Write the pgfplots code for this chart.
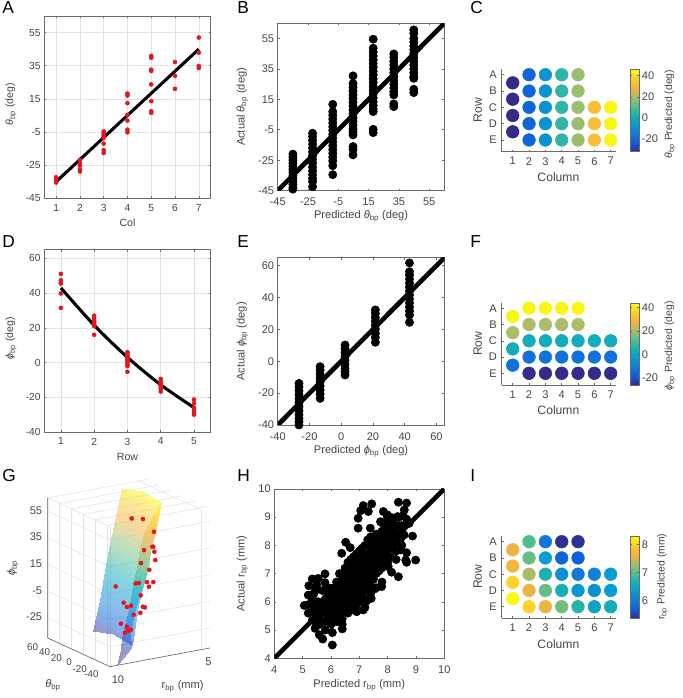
\documentclass[border=0pt]{standalone}
\usepackage{fontspec}
\setmainfont{Liberation Sans}
\usepackage{pgfplots}
\pgfplotsset{compat=1.18}
\usepgfplotslibrary{patchplots}
\definecolor{axc}{gray}{0.42}
\definecolor{txt}{gray}{0.27}
\definecolor{rd}{RGB}{230,20,30}
\newcommand{\thb}{\textit{θ}\textsubscript{bp}}
\newcommand{\phb}{\textit{ϕ}\textsubscript{bp}}
\newcommand{\rb}{r\textsubscript{bp}}
\pgfplotsset{
  colormap={parula}{rgb255=(53,42,135) rgb255=(15,92,221) rgb255=(18,125,216) rgb255=(7,156,207) rgb255=(21,177,180) rgb255=(89,189,140) rgb255=(165,190,107) rgb255=(247,178,62) rgb255=(252,206,46) rgb255=(249,251,14)},
  /pgf/number format/assume math mode=true,
  base/.style={scale only axis, anchor=south west, axis line style={draw=axc,line width=0.5pt},
    tick style={draw=axc,line width=0.4pt}, tick align=inside, major tick length=1.5pt,
    xtick pos=both, ytick pos=both,
    label style={text=txt}, tick label style={text=txt},
    xticklabel style={inner sep=0pt,yshift=-4.2pt}, yticklabel style={inner sep=0pt,xshift=-2.5pt}},
  pa/.style={base, width=124.8pt, height=136.7pt, grid=major, grid style={draw=gray!22,line width=0.4pt},
    tick label style={font=\fontsize{7.7}{9}\selectfont}, label style={font=\fontsize{7.9}{9}\selectfont},
    xlabel style={at={(axis description cs:0.5,-0.137)},anchor=center},
    ylabel style={at={(axis description cs:-0.2,0.515)},anchor=center,rotate=0}},
  pb/.style={base, tick label style={font=\fontsize{8.3}{10}\selectfont}, label style={font=\fontsize{8.3}{10}\selectfont},
    xticklabel style={yshift=-1.3pt},
    xlabel style={at={(axis description cs:0.5,-0.155)},anchor=center},
    ylabel style={at={(axis description cs:-0.2125,0.5)},anchor=center}},
  pc/.style={scale only axis, anchor=south west, width=85.5pt, xmin=0.326, xmax=7.31,
    axis x line*=bottom, axis y line*=left, axis line style={draw=axc,line width=0.6pt,-},
    tick style={draw=axc,line width=0.4pt}, tick align=inside, major tick length=1.5pt,
    xtick={1,...,7}, ytick={1,...,5}, yticklabels={E,D,C,B,A},
    colormap name=parula, colorbar,
    label style={text=txt,font=\fontsize{9.1}{11}\selectfont},
    tick label style={text=txt,font=\fontsize{8.3}{10}\selectfont},
    xticklabel style={inner sep=0pt,yshift=-4pt}, yticklabel style={inner sep=0pt,xshift=-3.5pt},
    xlabel style={at={(axis description cs:0.497,-0.31)},anchor=center},
    ylabel style={at={(axis description cs:-0.21,0.506)},anchor=center}},
  cb/.style={scale only axis, width=6.75pt, at={(parent axis.north east)}, anchor=north west, xshift=2.2pt,
    axis line style={draw=axc,line width=0.4pt}, tick style={draw=axc,line width=0.3pt}, tick align=inside, major tick length=1.5pt,
    yticklabel pos=right, tick label style={text=txt,font=\fontsize{8.3}{10}\selectfont,inner sep=0pt,xshift=2pt},
    label style={text=txt,font=\fontsize{7.8}{10}\selectfont}},
  dots/.style={only marks, mark=*, mark size=1.5pt, color=rd, mark options={draw=rd,fill=rd}},
  big/.style={only marks, mark=*, mark size=3.1pt, color=black, mark options={draw=black,fill=black}},
  fit/.style={black, line width=2.3pt, no marks},
  diag/.style={black, line width=3.5pt, no marks},
  circ/.style={scatter, only marks, mark=*, mark size=4.75pt, point meta=explicit,
    scatter/use mapped color={draw=mapped color, fill=mapped color}},
}
\pgfplotstableread{
x y
-35 -21
-35 -23
-35 -25
-35 -27
-35 -29
-35 -31
-35 -33
-35 -35
-35 -37
-35 -39
-35 -41
-35 -43
-35 -44
-22 -7.3
-22 -9.5
-22 -12
-22 -14.5
-22 -17
-22 -19.5
-22 -22
-22 -24.5
-22 -27
-22 -29.5
-22 -32
-22 -34.5
-22 -37
-22 -39
-22 -42.4
-8.7 11.7
-8.7 6.9
-8.7 4.5
-8.7 2
-8.7 -0.5
-8.7 -3
-8.7 -5.5
-8.7 -8
-8.7 -10.5
-8.7 -13
-8.7 -15.5
-8.7 -18
-8.7 -20.5
-8.7 -23
-8.7 -25.5
-8.7 -28.6
-8.7 -34.5
4.7 30.4
4.7 25.4
4.7 23
4.7 20.5
4.7 18
4.7 15.5
4.7 13
4.7 10.5
4.7 8
4.7 5.5
4.7 3
4.7 0.5
4.7 -2
4.7 -4.5
4.7 -6.5
4.7 -8.4
4.7 -16
4.7 -18
4.7 -21.5
18 54.5
18 48.6
18 46
18 43.5
18 41
18 38.5
18 36
18 33.5
18 31
18 28.5
18 26
18 23.5
18 21
18 18.5
18 16
18 13.5
18 11
18 8.5
18 6.9
18 -4.7
18 -6.9
31.6 44.8
31.6 42.5
31.6 40
31.6 37.5
31.6 35
31.6 32.5
31.6 30
31.6 27.5
31.6 25
31.6 22.5
31.6 20
31.6 17.9
31.6 12
31.6 10.2
44.8 60.6
44.8 58.4
44.8 55
44.8 52.5
44.8 50
44.8 47.5
44.8 45
44.8 42.5
44.8 40
44.8 37.5
44.8 35
44.8 32.5
44.8 30
44.8 28.8
44.8 21.6
44.8 19.4
}\tabB
\pgfplotstableread{
x y
-26.6 -13.9
-26.6 -16
-26.6 -18.5
-26.6 -21
-26.6 -23.5
-26.6 -26
-26.6 -28.5
-26.6 -31
-26.6 -33.5
-26.6 -36
-26.6 -38
-26.6 -40
-13.3 -3.4
-13.3 -5.5
-13.3 -8
-13.3 -10.5
-13.3 -13
-13.3 -15.5
-13.3 -18
-13.3 -20.5
-13.3 -23.3
2.4 10.2
2.4 8
2.4 5.5
2.4 3
2.4 0.5
2.4 -2
2.4 -4.5
2.4 -6.5
2.4 -8.6
21.5 32.2
21.5 30
21.5 27.5
21.5 25
21.5 22.5
21.5 20
21.5 17.5
21.5 15
21.5 11.9
43 61.7
43 56.2
43 54
43 51.5
43 49
43 46.5
43 44
43 41.5
43 39
43 36.5
43 34
43 31.5
43 29
43 24.4
}\tabE
\pgfplotstableread{
x y
8.38 9.53
8.67 9.5
7.44 9.47
7.14 9.41
7.05 9.23
7.32 9.2
6.96 8.96
8.59 9.26
8.55 9.06
8.35 9.02
7.85 9.2
7.99 9.08
7.75 8.84
8.67 8.93
8.76 8.78
6.96 8.61
7.39 8.61
8.88 8.33
8.58 8.37
8.46 8.23
8.46 7.84
8.67 7.74
8.64 7.48
8.67 7.4
8.99 7.48
8.38 6.89
8.14 7.05
8.02 7.25
6.52 8.11
6.68 7.92
6.38 7.72
5.79 6.99
5.34 6.81
5.55 6.83
5.79 6.68
5.22 6.57
5.46 6.42
5.2 6.24
5.06 5.87
5.2 5.6
5.34 6.07
5.44 5.06
5.59 4.83
5.71 4.68
6.05 4.47
6.05 4.91
6.4 5.04
6.4 5.2
7.14 5.71
6.91 5.65
5.55 6
7.79 6.54
7.55 6.46
7.42 6.12
7.26 6.03
5.6 5.2
5.6 5.4
5.6 5.6
5.6 5.8
5.8 5
5.8 5.3
5.8 5.6
5.8 5.9
5.8 6.1
6 5.2
6 5.4
6 5.6
6 5.8
6 6
6 6.2
6 6.4
6.2 5.3
6.2 5.5
6.2 5.7
6.2 5.9
6.2 6.1
6.2 6.3
6.2 6.5
6.2 6.7
6.4 5.4
6.4 5.6
6.4 5.8
6.4 6
6.4 6.2
6.4 6.4
6.4 6.6
6.4 6.8
6.4 7
6.6 5.6
6.6 5.8
6.6 6
6.6 6.2
6.6 6.4
6.6 6.6
6.6 6.8
6.6 7
6.6 7.2
6.6 7.4
6.8 5.8
6.8 6
6.8 6.2
6.8 6.4
6.8 6.6
6.8 6.8
6.8 7
6.8 7.2
6.8 7.4
6.8 7.6
7 6
7 6.4
7 6.6
7 6.8
7 7
7 7.2
7 7.4
7 7.6
7 7.8
7.2 5.8
7.2 6.1
7.2 6.4
7.2 6.7
7.2 6.9
7.2 7.1
7.2 7.3
7.2 7.5
7.2 7.7
7.2 8
7.4 6.3
7.4 6.7
7.4 6.9
7.4 7.1
7.4 7.3
7.4 7.5
7.4 7.7
7.4 7.9
7.4 8.1
7.4 8.3
7.6 6.5
7.6 7
7.6 7.2
7.6 7.4
7.6 7.6
7.6 7.8
7.6 8
7.6 8.2
7.6 8.4
7.8 6.7
7.8 7.2
7.8 7.5
7.8 7.7
7.8 7.9
7.8 8.1
7.8 8.3
7.8 8.5
7.8 8.8
8 7.4
8 7.8
8 8
8 8.2
8 8.4
8 8.6
8 8.8
8 9
8.2 8
8.2 8.2
8.2 8.4
8.2 8.6
8.2 8.8
8.4 8.2
8.4 8.4
8.4 8.7
8.4 9
5.5 5.3
5.5 5.5
5.5 5.7
5.5 6
5.9 5.4
5.9 5.7
5.9 6
5.9 6.3
6.1 5.3
6.1 5.6
6.1 5.9
6.1 6.2
6.1 6.5
6.3 5.5
6.3 5.8
6.3 6.1
6.3 6.4
6.3 6.7
6.3 7
6.5 5.7
6.5 6
6.5 6.3
6.5 6.6
6.5 6.9
6.5 7.2
6.7 5.7
6.7 6
6.7 6.3
6.7 6.6
6.7 6.9
6.7 7.2
6.7 7.5
6.9 5.9
6.9 6.2
6.9 6.5
6.9 6.8
6.9 7.1
6.9 7.4
6.9 7.7
7.1 6.2
7.1 6.5
7.1 6.8
7.1 7.1
7.1 7.4
7.1 7.7
7.1 7.9
7.3 6.5
7.3 6.8
7.3 7.1
7.3 7.4
7.3 7.7
7.3 8
7.3 8.2
7.5 6.8
7.5 7.1
7.5 7.4
7.5 7.7
7.5 8
7.5 8.3
7.7 7.1
7.7 7.4
7.7 7.7
7.7 8
7.7 8.3
7.9 7.3
7.9 7.6
7.9 7.9
7.9 8.2
7.9 8.5
7.9 8.8
8.1 7.6
8.1 7.9
8.1 8.2
8.1 8.5
8.1 8.8
8.1 9
8.3 7.5
8.3 7.8
8.3 8.1
8.3 8.4
8.3 8.7
8.5 8
8.5 8.4
8.5 8.7
5.4 5.8
5.3 5.6
5.5 6.6
5.4 6.3
5.2 5.9
5.35 5.35
5.5 5.2
5.7 6.4
5.9 6.5
}\tabH
\pgfplotstableread{
c r v
1 4.5 -33
1 3.5 -33
1 2.5 -33
1 1.5 -33
2 5 -21
2 4 -21
2 3 -21
2 2 -21
2 1 -21
3 5 -8
3 4 -8
3 3 -8
3 2 -8
3 1 -8
4 5 6
4 4 6
4 3 6
4 2 6
4 1 6
5 5 19
5 4 19
5 3 19
5 2 19
5 1 19
6 3 32
6 2 32
6 1 32
7 3 45
7 2 45
7 1 45
}\tabC
\pgfplotstableread{
c r v
1 4.5 43
1 3.5 21
1 2.5 3
1 1.5 -13
2 5 43
2 4 21
2 3 3
2 2 -13
2 1 -26
3 5 43
3 4 21
3 3 3
3 2 -13
3 1 -26
4 5 43
4 4 21
4 3 3
4 2 -13
4 1 -26
5 5 43
5 4 21
5 3 3
5 2 -13
5 1 -26
6 3 3
6 2 -13
6 1 -26
7 3 3
7 2 -13
7 1 -26
}\tabF
\pgfplotstableread{
c r v
1 4.5 7.6
1 3.5 7.7
1 2.5 8.0
1 1.5 8.3
2 5 6.95
2 4 7.05
2 3 7.35
2 2 7.6
2 1 8.0
3 5 5.95
3 4 6.35
3 3 6.7
3 2 7.05
3 1 7.6
4 5 5.4
4 4 5.75
4 3 6.2
4 2 6.65
4 1 7.1
5 5 5.4
5 4 5.7
5 3 5.95
5 2 6.3
5 1 6.75
6 3 6.05
6 2 6.2
6 1 6.45
7 3 6.35
7 2 6.35
7 1 6.6
}\tabI
\begin{document}
\begin{tikzpicture}
\path[use as bounding box] (0pt,0pt) rectangle (511.5pt,523.5pt);
% A
\begin{axis}[pa, at={(33.2pt,374.8pt)}, xmin=0.5, xmax=7.5, ymin=-45, ymax=65, xtick={1,...,7}, ytick={-45,-25,-5,15,35,55}, xlabel={Col}, ylabel={\thb{} (deg)}]
\addplot[fit] coordinates {(1,-35)(7,45)};
\addplot[dots] coordinates {(1,-32.3)(1,-33)(1,-34)(1,-35.5)(2,-21.8)(2,-23.8)(2,-25.4)(2,-27.8)(2,-28.8)(3,-4.6)(3,-6)(3,-7)(3,-8)(3,-8.5)(3,-12)(3,-16)(3,-17.7)(4,18.2)(4,17)(4,12.4)(4,5.3)(4,1.9)(4,-3.6)(4,-5.2)(5,40.9)(5,39.8)(5,32.6)(5,31.8)(5,23.7)(5,13.6)(5,7.5)(5,6.5)(6,37.2)(6,28.9)(6,21)(7,52)(7,42.9)(7,34.8)(7,33.6)};
\end{axis}
% B
\begin{axis}[pb, at={(208.3pt,380.5pt)}, width=125pt, height=125.6pt, xmin=-45, xmax=65, ymin=-45, ymax=65, xtick={-45,-25,-5,15,35,55}, ytick={-45,-25,-5,15,35,55}, xlabel={Predicted \thb{} (deg)}, ylabel={Actual \thb{} (deg)}]
\addplot[big] table {\tabB};
\addplot[diag] coordinates {(-45,-45)(65,65)};
\end{axis}
% C
\begin{axis}[pc, at={(376.3pt,409.7pt)}, height=61.8pt, ymin=0.28, ymax=5.33, point meta min=-32, point meta max=46, xlabel={Column}, ylabel={Row},
  colorbar style={cb, height=61.8pt, ytick={-20,0,20,40}, ylabel={\thb{} Predicted (deg)}, ylabel style={at={(axis description cs:4.44,0.457)},anchor=center,rotate=0}}]
\addplot[circ] table[x=c,y=r,meta=v] {\tabC};
\end{axis}
% D
\begin{axis}[pa, at={(33.2pt,199.5pt)}, xmin=0.5, xmax=5.5, ymin=-40, ymax=65, xtick={1,...,5}, ytick={-40,-20,0,20,40,60}, xlabel={Row}, ylabel={\phb{} (deg)}]
\addplot[fit, smooth] coordinates {(1,43)(2,21.5)(3,3)(4,-12.8)(5,-26)};
\addplot[dots] coordinates {(1,51.1)(1,47.4)(1,46.3)(1,45.5)(1,39.8)(1,31.5)(2,27)(2,25.5)(2,24)(2,23)(2,22)(2,21)(2,16)(3,6)(3,5)(3,4)(3,3)(3,2)(3,1)(3,0)(3,-1)(3,-2)(3,-5.3)(4,-9.4)(4,-11)(4,-12)(4,-13)(4,-14)(4,-15)(4,-16.7)(5,-21.3)(5,-23.4)(5,-26)(5,-27.3)(5,-28.8)(5,-30)};
\end{axis}
% E
\begin{axis}[pb, at={(208.3pt,204.75pt)}, width=125pt, height=125.5pt, xmin=-40, xmax=65, ymin=-40, ymax=65, xtick={-40,-20,0,20,40,60}, ytick={-40,-20,0,20,40,60}, xlabel={Predicted \phb{} (deg)}, ylabel={Actual \phb{} (deg)}]
\addplot[big] table {\tabE};
\addplot[diag] coordinates {(-40,-40)(65,65)};
\end{axis}
% F
\begin{axis}[pc, at={(376.3pt,234.75pt)}, height=61.3pt, ymin=0.28, ymax=5.31, point meta min=-26.3, point meta max=43.8, xlabel={Column}, ylabel={Row},
  colorbar style={cb, height=61.3pt, ytick={-20,0,20,40}, ylabel={\phb{} Predicted (deg)}, ylabel style={at={(axis description cs:4.44,0.48)},anchor=center,rotate=0}}]
\addplot[circ] table[x=c,y=r,meta=v] {\tabF};
\end{axis}
% G
\begin{axis}[at={(35.8pt,23.5pt)}, anchor=south west, x={(-13.635pt,-2.55pt)}, y={(-0.4448pt,0.2048pt)}, z={(0pt,1pt)},
  xmin=4.5, xmax=10, ymin=-45, ymax=60, zmin=-40, zmax=65, xtick={5,10}, ytick={-40,-20,0,20,40,60}, ztick={-25,-5,15,35,55},
  grid=major, grid style={draw=gray!22,line width=0.4pt}, clip=false, axis line style={draw=none},
  tick style={draw=none}, major tick length=0pt, colormap name=parula,
  tick label style={text=txt,font=\fontsize{8.3}{10}\selectfont,inner sep=1pt},
  xticklabel style={xshift=3pt,yshift=-5pt}, yticklabel style={xshift=-7.5pt,yshift=-2pt,font=\fontsize{7.4}{9}\selectfont}, zticklabel style={xshift=-3pt},
  point meta min=-41, point meta max=66]
\addplot3[dots] coordinates {(6.83,0,20.4)(6.66,0,29.7)(7.12,0,5.9)(6.94,0,5.7)(7.78,0,-6.9)(7.38,0,-10.2)(7.23,0,-17.3)(7.60,0,-25.4)(7.38,0,-28.2)(7.71,0,-29.6)(7.52,0,-28.5)(6.11,0,42)};
\addplot3[surf, shader=interp, opacity=0.5, mesh/cols=3, point meta=z] coordinates {
(5.93,60,62.0)(5.96,25,67.0)(6.05,-10,66.3)
(6.24,60,41.8)(6.29,25,46.1)(6.33,-10,47.3)
(6.55,60,21.6)(6.56,25,25.9)(6.66,-10,29.5)
(6.85,60,2.9)(6.84,25,7.1)(6.99,-10,9.3)
(7.15,60,-18.8)(7.28,25,-14.3)(7.34,-10,-7.7)
(7.49,60,-40.9)(7.55,25,-36.0)(7.66,-10,-36.9)};
\addplot3[surf, shader=interp, opacity=0.5, mesh/cols=2, point meta=explicit] coordinates {
(5.89,0,59.2)[59.2] (6.38,-20,69.3)[66]
(6.55,0,45.9)[45.9] (6.62,-20,53.9)[53.9]
(6.88,0,32.5)[32.5] (6.96,-20,34.6)[34.6]
(7.07,0,18)[18] (7.11,-20,20)[20]
(7.27,0,5)[5] (7.54,-20,3.8)[3.8]
(7.51,0,-13.1)[-13.1] (7.85,-20,-10.3)[-10.3]
(7.89,0,-32.1)[-32.1] (8.09,-20,-24.7)[-24.7]
(7.95,0,-41.9)[-41] (8.03,-20,-36.1)[-36.1]
(8.16,0,-52.6)[-41] (8.77,-20,-46.2)[-41]};
\addplot3[dots] coordinates {(7.34,0,55.2)(6.72,0,53.1)(6.20,0,31)(6.15,0,30.9)(6.09,0,27)(6.04,0,20.6)(6.37,0,14.2)(6.50,0,5.3)(6.15,0,4.4)(6.39,0,1.5)(8.22,0,6.4)(6.84,0,-3.8)(6.73,0,-12.6)(6.61,0,-13.4)(6.86,0,-16.8)(7.93,0,-22.2)(7.60,0,-10.6)};
\addplot3[draw=axc,line width=0.5pt,no marks] coordinates {(10,60,65)(10,60,-40)(10,-45,-40)(4.5,-45,-40)};
\end{axis}
% H
\begin{axis}[pb, at={(205.7pt,29.8pt)}, width=127.5pt, height=127pt, xmin=4, xmax=10, ymin=4, ymax=10, xtick={4,...,10}, ytick={4,...,10}, xlabel={Predicted \rb{} (mm)}, ylabel={Actual \rb{} (mm)},
  xlabel style={at={(axis description cs:0.5,-0.158)},anchor=center}, ylabel style={at={(axis description cs:-0.188,0.5)},anchor=center}]
\addplot[big] table {\tabH};
\addplot[diag] coordinates {(4,4)(10,10)};
\end{axis}
% I
\begin{axis}[pc, at={(376.3pt,59.8pt)}, height=61.7pt, ymin=0.29, ymax=5.35, point meta min=5.36, point meta max=8.3, xlabel={Column}, ylabel={Row},
  colorbar style={cb, height=61.7pt, ytick={6,7,8}, ylabel={\rb{} Predicted (mm)}, ylabel style={at={(axis description cs:3.6,0.505)},anchor=center,rotate=0}}]
\addplot[circ] table[x=c,y=r,meta=v] {\tabI};
\end{axis}
% G labels
\node[text=txt,font=\fontsize{8.3}{10}\selectfont,rotate=90] at (9.5pt,97.5pt) {\phb};
\node[text=txt,font=\fontsize{8.3}{10}\selectfont] at (39.8pt,9.8pt) {\thb};
\node[text=txt,font=\fontsize{8.3}{10}\selectfont] at (137pt,8.5pt) {\rb{} (mm)};
% panel letters
\foreach \l/\x/\y in {A/1.5/513, B/177.8/513, C/352.5/513, D/1.5/337.5, E/177.8/337.5, F/352.5/337.5, G/1.5/162.7, H/177.8/162.7, I/352.5/162.7}
  \node[anchor=base west,inner sep=0pt,font=\fontsize{13}{15}\selectfont] at (\x pt,\y pt) {\l};
\end{tikzpicture}
\end{document}
